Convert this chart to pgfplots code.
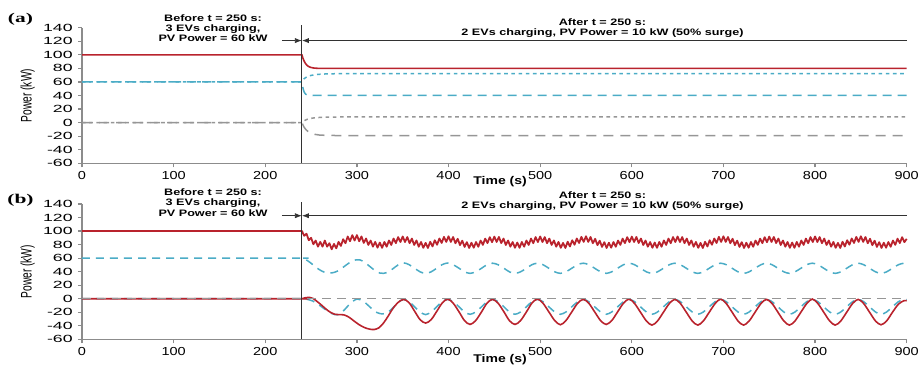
\documentclass[border=0pt]{standalone}
\usepackage{fontspec}
\setmainfont{Liberation Sans}
\newfontfamily\ytickf[FakeStretch=1.7]{Liberation Sans}
\newfontfamily\xtickf[FakeStretch=1.25]{Liberation Sans}
\newfontfamily\titlef[FakeStretch=1.35]{Liberation Sans}
\newfontfamily\panelf[FakeStretch=1.6]{Liberation Serif}
\usepackage{graphicx}
\usepackage{pgfplots}
\pgfplotsset{compat=1.18}
\usetikzlibrary{arrows.meta}
\definecolor{pred}{RGB}{185,35,45}
\definecolor{pcyan}{RGB}{75,172,198}
\definecolor{pgray}{RGB}{150,150,150}
\definecolor{axgray}{RGB}{140,140,140}
\definecolor{vline}{RGB}{50,50,50}
\pgfplotsset{panel/.style={
  scale only axis, width=412.35pt, height=67.8pt, anchor=south west,
  xmin=0, xmax=900, ymin=-60, ymax=140,
  axis x line=bottom, axis y line=left,
  axis line style={-, draw=axgray, line width=0.8pt},
  xtick={0,100,...,900}, ytick={-60,-40,...,140},
  tick align=outside, major tick length=2pt,
  tick style={draw=axgray, line width=0.6pt},
  /pgf/number format/assume math mode=true,
  xticklabel style={font=\xtickf\fontsize{5.8}{6}\selectfont, inner sep=0pt, anchor=north, yshift=-1.8pt},
  yticklabel style={font=\ytickf\fontsize{5.2}{6}\selectfont, inner sep=0pt, anchor=east, xshift=-2.5pt},
  xlabel={Time (s)},
  xlabel style={font=\xtickf\bfseries\fontsize{5.6}{6}\selectfont, anchor=center, inner sep=0pt},
  ylabel={\scalebox{1}[1.5]{Power (kW)}},
  ylabel style={font=\fontsize{5.1}{5.5}\selectfont, at={(axis description cs:-0.066,0.5)}, anchor=center, inner sep=0pt},
  clip=false,
}}
\tikzset{ttl/.style={font=\titlef\bfseries\fontsize{4.67}{5.1}\selectfont, align=center, inner sep=0pt},
  pl/.style={font=\panelf\bfseries\fontsize{6.7}{7}\selectfont, inner sep=0pt},
  arr/.style={line width=0.4pt, draw=vline, -{Latex[length=3.5pt,width=2.6pt]}}}
\begin{document}
\begin{tikzpicture}
\useasboundingbox (0,0) rectangle (459.5pt,182.5pt);
% ---------------- panel (a) ----------------
\begin{axis}[panel, at={(41pt,100.85pt)},
  xlabel style={at={(axis description cs:0.507,-0.134)}}]
\addplot[pgray, line width=0.75pt, dash pattern=on 1.8pt off 1.8pt] coordinates {(0,0)(240,0)(241.5,1.8)(243.5,3.5)(246,5)(249.5,6.2)(254,7.1)(260,7.7)(268,8.1)(280,8.3)(900,8.3)};
\addplot[pgray, line width=0.75pt, dash pattern=on 5pt off 3.5pt] coordinates {(0,0)(240,0)(241,-3)(242.5,-7)(244.5,-10.5)(247,-13.5)(250,-15.7)(254,-17.3)(259,-18.3)(266,-18.8)(276,-19)(900,-19)};
\addplot[pcyan, line width=0.75pt, dash pattern=on 1.8pt off 1.8pt] coordinates {(0,60)(240,60)(241,62.5)(242.5,64.8)(244.5,66.8)(247,68.4)(250,69.6)(254,70.6)(259,71.3)(266,71.8)(276,72.1)(290,72.3)(900,72.3)};
\addplot[pcyan, line width=0.75pt, dash pattern=on 4.5pt off 3pt] coordinates {(0,60)(240,60)(240.5,55)(241.5,49)(242.5,45)(244,42)(246,40.6)(249,40.1)(253,40)(900,40)};
\addplot[pred, line width=0.8pt] coordinates {(0,100)(240,100)(241,95.5)(242,92)(243,89.2)(244,87)(245,85.3)(246.5,83.5)(248,82.3)(250,81.3)(253,80.5)(257,80.1)(262,80)(900,80)};
\draw[vline, line width=0.5pt] (axis cs:240,-60) -- (axis cs:240,144);
\draw[arr] (axis cs:218,121) -- (axis cs:240,121);
\draw[arr] (axis cs:900,121) -- (axis cs:240,121);
\node[ttl] at (axis cs:143,139) {Before t = 250 s:\\3 EVs charging,\\PV Power = 60 kW};
\node[ttl] at (axis cs:568,139.6) {After t = 250 s:\\2 EVs charging, PV Power = 10 kW (50\% surge)};
\node[pl] at (rel axis cs:-0.0746,1.064) {(a)};
\end{axis}
% ---------------- panel (b) ----------------
\begin{axis}[panel, at={(41pt,12.85pt)}, height=67.65pt,
  xlabel style={at={(axis description cs:0.507,-0.153)}}]
\addplot[pcyan, line width=0.75pt, smooth, dash pattern=on 4pt off 3pt] coordinates {(0,60)(230,60)(240,60)(244,58)(249,53.5)(254,48)(259,43)(264,39.5)(269,38)(274,38.5)(279,41)(284,45.5)(289,50.5)(294,55)(299,57.5)(303,57.5)(307,55)(312,50)(317,44.5)(321,40.5)(325,38)(329,37.5)(334,39.5)(339,44)(345,50)
(351,53)(357,50.3)(363,45)(369,39.7)(375,37.5)(381,39.7)(387,45)(393,50.3)
(399,52.8)(405,50.3)(411.5,45)(417.5,39.7)(423.5,37.5)(429.5,39.7)(436,45)(442,50.3)
(448,52.5)(454,50.3)(460.5,45)(466.5,39.7)(472.5,37.5)(478.5,39.7)(485,45)(491,50.3)
(497,52.5)(503,50.3)(509.5,45)(516,39.7)(522,37.5)(528,39.7)(534.5,45)(541,50.3)
(547,52.5)(553,50.3)(559.5,45)(566,39.7)(572,37.5)(578,39.7)(584.5,45)(591,50.3)
(597,52.5)(603,50.3)(609.5,45)(616,39.7)(622,37.5)(628,39.7)(634.5,45)(641,50.3)
(647,52.5)(653,50.3)(659.5,45)(666,39.7)(672,37.5)(678,39.7)(684.5,45)(691,50.3)
(697,52.5)(703,50.3)(709.5,45)(716,39.7)(722,37.5)(728,39.7)(734.5,45)(741,50.3)
(747,52.5)(753,50.3)(759.5,45)(766,39.7)(772,37.5)(778,39.7)(784.5,45)(791,50.3)
(797,52.5)(803,50.3)(809.5,45)(816,39.7)(822,37.5)(828,39.7)(834.5,45)(841,50.3)
(847,52.5)(853,50.3)(859.5,45)(866,39.7)(872,37.5)(878,39.7)(884.5,45)(891,50.3)
(897,52.5)(900,52.2)};
\addplot[pred, line width=0.9pt, line join=round] coordinates {(0,100)(240,100)(242.5,93)(245,96)(247.5,86.5)(250,90)(252.5,80.5)(255,86)(257.5,77)(260,84)(262.5,77)(265,86)(267.5,77)(270,82)(272.5,73)(275,81)(277.5,74.5)(280,84)(282.5,78)(285,88)(287.5,82)(290,92)(292.5,85)(295,94)(297.5,86)(300,94)(302.5,85)(305,92)(307.5,82.5)(310,89)(312.5,79.5)(315,86)(317.5,77)(320,84)(322.5,75.5)
(325,83.0)(327.5,75.2)(330,83.9)(332.5,76.9)(335,86.1)(337.5,79.5)(340,88.9)(342.5,82.1)(345,91.1)(347.5,83.8)(350,92.0)(352.5,83.8)(355,91.1)(357.5,82.1)(360,88.9)(362.5,79.5)(365,86.1)(367.5,76.9)(370,83.9)(372.5,75.2)
(375,82.5)(377.5,75.0)(380,84.2)(382.5,77.2)(385,86.4)(387.5,79.8)(390,89.0)(392.5,82.4)(395,91.4)(397.5,84.0)(400,92.3)(402.5,84.0)(405,91.2)(407.5,82.0)(410,88.6)(412.5,79.2)(415,85.8)(417.5,76.6)(420,83.6)(422.5,75.0)
(425,82.8)(427.5,75.4)(430,83.8)(432.5,76.8)(435,86.0)(437.5,79.6)(440,88.8)(442.5,82.2)(445,91.0)(447.5,83.6)(450,91.8)(452.5,83.9)(455,91.3)(457.5,82.3)(460,88.9)(462.5,79.4)(465,86.0)(467.5,76.9)(470,83.8)(472.5,75.3)
(475,83.0)(477.5,75.2)(480,83.9)(482.5,76.9)(485,86.1)(487.5,79.5)(490,88.9)(492.5,82.1)(495,91.1)(497.5,83.8)(500,92.0)(502.5,83.8)(505,91.1)(507.5,82.1)(510,88.9)(512.5,79.5)(515,86.1)(517.5,76.9)(520,83.9)(522.5,75.2)
(525,82.5)(527.5,75.0)(530,84.2)(532.5,77.2)(535,86.4)(537.5,79.8)(540,89.0)(542.5,82.4)(545,91.4)(547.5,84.0)(550,92.3)(552.5,84.0)(555,91.2)(557.5,82.0)(560,88.6)(562.5,79.2)(565,85.8)(567.5,76.6)(570,83.6)(572.5,75.0)
(575,82.8)(577.5,75.4)(580,83.8)(582.5,76.8)(585,86.0)(587.5,79.6)(590,88.8)(592.5,82.2)(595,91.0)(597.5,83.6)(600,91.8)(602.5,83.9)(605,91.3)(607.5,82.3)(610,88.9)(612.5,79.4)(615,86.0)(617.5,76.9)(620,83.8)(622.5,75.3)
(625,83.0)(627.5,75.2)(630,83.9)(632.5,76.9)(635,86.1)(637.5,79.5)(640,88.9)(642.5,82.1)(645,91.1)(647.5,83.8)(650,92.0)(652.5,83.8)(655,91.1)(657.5,82.1)(660,88.9)(662.5,79.5)(665,86.1)(667.5,76.9)(670,83.9)(672.5,75.2)
(675,82.5)(677.5,75.0)(680,84.2)(682.5,77.2)(685,86.4)(687.5,79.8)(690,89.0)(692.5,82.4)(695,91.4)(697.5,84.0)(700,92.3)(702.5,84.0)(705,91.2)(707.5,82.0)(710,88.6)(712.5,79.2)(715,85.8)(717.5,76.6)(720,83.6)(722.5,75.0)
(725,82.8)(727.5,75.4)(730,83.8)(732.5,76.8)(735,86.0)(737.5,79.6)(740,88.8)(742.5,82.2)(745,91.0)(747.5,83.6)(750,91.8)(752.5,83.9)(755,91.3)(757.5,82.3)(760,88.9)(762.5,79.4)(765,86.0)(767.5,76.9)(770,83.8)(772.5,75.3)
(775,83.0)(777.5,75.2)(780,83.9)(782.5,76.9)(785,86.1)(787.5,79.5)(790,88.9)(792.5,82.1)(795,91.1)(797.5,83.8)(800,92.0)(802.5,83.8)(805,91.1)(807.5,82.1)(810,88.9)(812.5,79.5)(815,86.1)(817.5,76.9)(820,83.9)(822.5,75.2)
(825,82.5)(827.5,75.0)(830,84.2)(832.5,77.2)(835,86.4)(837.5,79.8)(840,89.0)(842.5,82.4)(845,91.4)(847.5,84.0)(850,92.3)(852.5,84.0)(855,91.2)(857.5,82.0)(860,88.6)(862.5,79.2)(865,85.8)(867.5,76.6)(870,83.6)(872.5,75.0)
(875,82.8)(877.5,75.4)(880,83.8)(882.5,76.8)(885,86.0)(887.5,79.6)(890,88.8)(892.5,82.2)(895,91.0)(897.5,83.6)(900,88.5)};
\addplot[pcyan, line width=0.75pt, smooth, dash pattern=on 4pt off 3pt] coordinates {(0,0)(230,0)(240,0)(246,-1)(252,-3.5)(258,-8.5)(264,-14.5)(270,-20)(276,-23.5)(281,-23)(286,-17)(291,-9.5)(296,-3.5)(300,-0.5)(304,-1.5)(310,-7)(316,-14.5)(322,-20.5)(328,-22.5)(334,-20)(340,-12.5)(345.5,-5)
(351,-1)(357,-4.3)(363,-12)(369,-19.7)(375,-23.5)(381,-19.7)(387,-12)(393,-4.3)
(399,-1)(405,-4.3)(411.5,-12)(417.5,-19.7)(423.5,-23)(429.5,-19.7)(436,-12)(442,-4.3)
(448,-1)(454,-4.3)(460.5,-12)(466.5,-19.7)(472.5,-23)(478.5,-19.7)(485,-12)(491,-4.3)
(497,-1)(503,-4.3)(509.5,-12)(516,-19.7)(522,-23)(528,-19.7)(534.5,-12)(541,-4.3)
(547,-1)(553,-4.3)(559.5,-12)(566,-19.7)(572,-23)(578,-19.7)(584.5,-12)(591,-4.3)
(597,-1)(603,-4.3)(609.5,-12)(616,-19.7)(622,-23)(628,-19.7)(634.5,-12)(641,-4.3)
(647,-1)(653,-4.3)(659.5,-12)(666,-19.7)(672,-23)(678,-19.7)(684.5,-12)(691,-4.3)
(697,-1)(703,-4.3)(709.5,-12)(716,-19.7)(722,-23)(728,-19.7)(734.5,-12)(741,-4.3)
(747,-1)(753,-4.3)(759.5,-12)(766,-19.7)(772,-23)(778,-19.7)(784.5,-12)(791,-4.3)
(797,-1)(803,-4.3)(809.5,-12)(816,-19.7)(822,-23)(828,-19.7)(834.5,-12)(841,-4.3)
(847,-1)(853,-4.3)(859.5,-12)(866,-19.7)(872,-23)(878,-19.7)(884.5,-12)(891,-4.3)
(897,-1)(900,-1.5)};
\addplot[pred, line width=0.8pt, smooth] coordinates {(0,0)(230,0)(240,0)(244,1.5)(248,2)(252,0.5)(256,-3.5)(261,-9)(266,-15)(271,-20)(276,-23)(281,-23.5)(286,-24)(291,-27)(296,-32)(302,-38)(308,-42.5)(314,-45)(319,-45.5)(324,-43)(329,-36)(334,-26)(339,-15)(345,-5.5)
(351,-1)(357,-6)(363,-18.5)(369,-31)(375,-36)(381,-31)(387,-19)(393,-6.5)
(399,-0.5)(405,-6.5)(411.5,-19.5)(417.5,-32.5)(423.5,-38)(429.5,-32.5)(436,-19.5)(442,-6.5)
(448,-1)(454,-6.5)(460.5,-19.5)(466.5,-32.5)(472.5,-38)(478.5,-32.5)(485,-19.5)(491,-6.5)
(497,-0.5)(503,-6.5)(509.5,-19.5)(516,-32.5)(522,-38.5)(528,-32.5)(534.5,-19.5)(541,-6.5)
(547,-1)(553,-6.5)(559.5,-19.5)(566,-32.5)(572,-38)(578,-32.5)(584.5,-19.5)(591,-6.5)
(597,-0.5)(603,-7)(609.5,-20)(616,-33)(622,-39)(628,-33)(634.5,-20)(641,-7)
(647,-1)(653,-7)(659.5,-20)(666,-33)(672,-39)(678,-33)(684.5,-20)(691,-7)
(697,-0.5)(703,-7)(709.5,-20)(716,-33)(722,-39)(728,-33)(734.5,-20)(741,-7)
(747,-1)(753,-7)(759.5,-20)(766,-33)(772,-39)(778,-33)(784.5,-20)(791,-7)
(797,-0.5)(803,-7)(809.5,-20)(816,-33)(822,-39)(828,-33)(834.5,-20)(841,-7)
(847,-1)(853,-7)(859.5,-20)(866,-33)(872,-38.5)(878,-33)(884.5,-20)(891,-8)
(897,-3)(900,-3)};
\addplot[pgray, line width=0.75pt, dash pattern=on 4.5pt off 3pt] coordinates {(0,0)(900,0)};
\draw[vline, line width=0.5pt] (axis cs:240,-60) -- (axis cs:240,143.4);
\draw[arr] (axis cs:218,122.7) -- (axis cs:240,122.7);
\draw[arr] (axis cs:900,122.7) -- (axis cs:240,122.7);
\node[ttl] at (axis cs:143,142) {Before t = 250 s:\\3 EVs charging,\\PV Power = 60 kW};
\node[ttl] at (axis cs:568,144) {After t = 250 s:\\2 EVs charging, PV Power = 10 kW (50\% surge)};
\node[pl] at (rel axis cs:-0.0746,1.026) {(b)};
\end{axis}
\end{tikzpicture}
\end{document}
